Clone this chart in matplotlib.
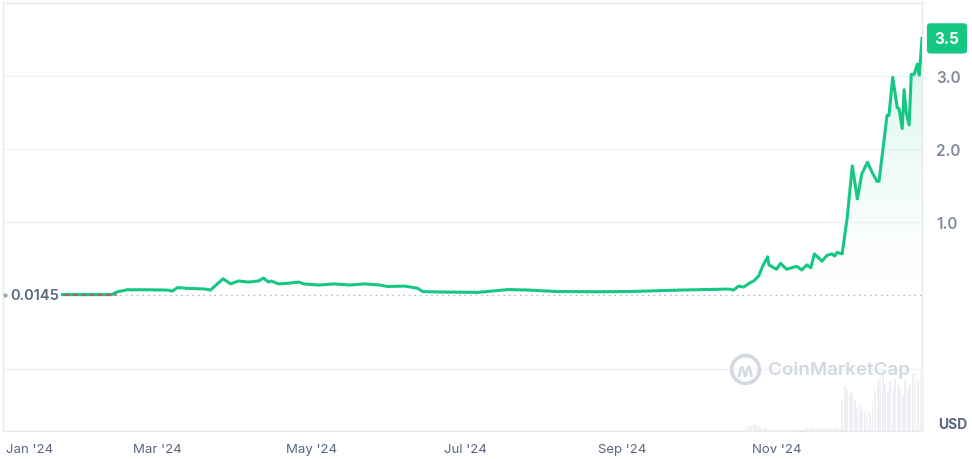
"""Price chart in CoinMarketCap style - 2024 price history."""

import numpy as np
import pandas as pd
import matplotlib
matplotlib.use("Agg")
import matplotlib.pyplot as plt
import matplotlib.dates as mdates

plt.rcParams["font.family"] = ["Inter", "DejaVu Sans"]

# 価格データ (USD)
price_dates = [
    "2024-01-21", "2024-01-28", "2024-02-04", "2024-02-12", "2024-02-14", "2024-02-18",
    "2024-02-26", "2024-03-05", "2024-03-07", "2024-03-09", "2024-03-13", "2024-03-20",
    "2024-03-22", "2024-03-27", "2024-03-30", "2024-04-02", "2024-04-06", "2024-04-10",
    "2024-04-12", "2024-04-14", "2024-04-15", "2024-04-18", "2024-04-22", "2024-04-26",
    "2024-04-28", "2024-05-04", "2024-05-10", "2024-05-16", "2024-05-22", "2024-05-28",
    "2024-05-31", "2024-06-07", "2024-06-12", "2024-06-14", "2024-06-20", "2024-07-06",
    "2024-07-18", "2024-07-26", "2024-08-06", "2024-08-23", "2024-09-04", "2024-09-24",
    "2024-10-13", "2024-10-15", "2024-10-17", "2024-10-19", "2024-10-22", "2024-10-23",
    "2024-10-25", "2024-10-26 12:00", "2024-10-28 12:00", "2024-10-29", "2024-11-01",
    "2024-11-02 14:00", "2024-11-05", "2024-11-09", "2024-11-11", "2024-11-13",
    "2024-11-14 14:00", "2024-11-16", "2024-11-19", "2024-11-21", "2024-11-23",
    "2024-11-24", "2024-11-25", "2024-11-27", "2024-11-29", "2024-12-01", "2024-12-03",
    "2024-12-04 18:00", "2024-12-07", "2024-12-08 18:00", "2024-12-10 18:00",
    "2024-12-11 14:00", "2024-12-14 18:00", "2024-12-15 12:00", "2024-12-17",
    "2024-12-18 18:00", "2024-12-19 12:00", "2024-12-20 18:00", "2024-12-21 12:00",
    "2024-12-22 08:00", "2024-12-23 12:00", "2024-12-24 08:00", "2024-12-25 12:00",
    "2024-12-26 18:00", "2024-12-27 12:00", "2024-12-28 14:00",
]
price_values = [
    0.0145, 0.0141, 0.0140, 0.0143, 0.05, 0.08,
    0.08, 0.076, 0.063, 0.11, 0.10, 0.09,
    0.076, 0.23, 0.16, 0.20, 0.185, 0.20,
    0.24, 0.185, 0.20, 0.16, 0.17, 0.185,
    0.16, 0.145, 0.16, 0.145, 0.16, 0.145,
    0.125, 0.13, 0.10, 0.055, 0.05, 0.045,
    0.083, 0.076, 0.056, 0.053, 0.056, 0.076,
    0.09, 0.076, 0.13, 0.117, 0.185, 0.20,
    0.27, 0.40, 0.53, 0.42, 0.36,
    0.44, 0.36, 0.40, 0.35, 0.42,
    0.38, 0.57, 0.47, 0.55, 0.57,
    0.54, 0.59, 0.57, 1.07, 1.77, 1.32,
    1.66, 1.82, 1.69, 1.56,
    1.56, 2.46, 2.46, 2.98,
    2.57, 2.55, 2.28, 2.81,
    2.50, 2.33, 3.02, 3.02,
    3.16, 3.01, 3.51,
]
base_price = 0.0145

# 出来高 (相対値)
volume_dates = pd.date_range("2024-10-18", "2024-12-28", freq="D")
volume_values = [
    1, 2, 4, 6, 5, 8, 6, 4, 3, 2,
    2, 1, 1, 2, 1, 1, 2, 1, 1, 1,
    1, 1, 2, 1, 1, 2, 3, 2, 3, 2,
    3, 2, 3, 2, 3, 2, 2, 3, 3, 2,
    30, 44, 40, 36, 38, 30, 22, 25, 20, 18,
    20, 18, 28, 40, 48, 52, 55, 45, 38, 48,
    40, 50, 45, 42, 35, 50, 40, 45, 55, 58,
    50, 58,
]

y_ticks = [-1, 1, 2, 3]
y_ticklabels = ["", "1.0", "2.0", "3.0"]
x_ticks = ["2024-01-01", "2024-03-01", "2024-05-01", "2024-07-01", "2024-09-01", "2024-11-01"]
x_ticklabels = ["Jan '24", "Mar '24", "May '24", "Jul '24", "Sep '24", "Nov '24"]

GREEN = "#16c784"
RED = "#ea3943"
GRID = "#eff2f5"
TEXT = "#58667e"
TICK = "#808a9d"

dates = pd.to_datetime(price_dates, format="mixed")
prices = np.array(price_values)
x = mdates.date2num(dates)

fig = plt.figure(figsize=(9.72, 4.6), dpi=100)
ax = fig.add_axes([3 / 972, 28 / 460, 919 / 972, 428.5 / 460])

x_min = mdates.date2num(pd.Timestamp("2023-12-30 22:00"))
x_max = x[-1]
y_min, y_max = -1.847, 4.0

# 出来高 (下部)
axv = ax.twinx()
axv.bar(volume_dates, volume_values, width=0.75, color="#eef0f3", linewidth=0, zorder=0)
axv.set_ylim(0, max(volume_values) * 428 / 60)
axv.axis("off")
ax.set_zorder(axv.get_zorder() + 1)
ax.patch.set_visible(False)

# グリッド
for t in y_ticks:
    ax.axhline(t, color=GRID, lw=1, zorder=1)

# 基準線
ax.axhline(base_price, color="#a6b0c3", lw=1, ls=(0, (1, 3)), zorder=2)

# グラデーション塗り
fill = ax.fill_between(x, prices, base_price, color="none", linewidth=0)
grad = np.zeros((256, 1, 4))
grad[:, 0, :3] = matplotlib.colors.to_rgb(GREEN)
grad[:, 0, 3] = np.linspace(0.26, 0.0, 256) ** 1.3
img = ax.imshow(grad, aspect="auto", extent=[x_min, x_max, base_price, 3.6],
                origin="upper", zorder=2)
img.set_clip_path(fill.get_paths()[0], transform=ax.transData)

# 価格ライン
ax.plot(x, prices, color=GREEN, lw=2.2, solid_joinstyle="round", zorder=4)
ax.plot(x[:5], np.minimum(prices[:5], base_price - 0.01), color=RED, lw=1.2,
        ls=(0, (3, 2)), alpha=0.8, zorder=5)

ax.set_xlim(x_min, x_max)
ax.set_ylim(y_min, y_max)

# 軸
for s in ax.spines.values():
    s.set_color("#e6e8ec")
    s.set_linewidth(1)
ax.yaxis.tick_right()
ax.set_yticks(y_ticks)
ax.set_yticklabels(y_ticklabels)
ax.tick_params(axis="y", length=0, pad=10, labelsize=11, labelcolor=TICK)
for lab in ax.get_yticklabels():
    lab.set_fontweight("semibold")

ax.set_xticks(mdates.date2num(pd.to_datetime(x_ticks)))
ax.set_xticklabels(x_ticklabels)
ax.tick_params(axis="x", length=0, pad=9, labelsize=9.5, labelcolor=TEXT)
ax.get_xticklabels()[0].set_horizontalalignment("left")

# 最新価格ラベル
ax.annotate(f"{prices[-1]:.1f}", xy=(1.0, prices[-1]), xycoords=("axes fraction", "data"),
            xytext=(18, 0), textcoords="offset points", ha="center", va="center",
            fontsize=11, fontweight="bold", color="white",
            bbox=dict(boxstyle="round,pad=0.5,rounding_size=0.2", fc=GREEN, ec="none"))

# 基準価格ラベル
ax.text(0.008, base_price, f"{base_price}", transform=ax.get_yaxis_transform(),
        ha="left", va="center", fontsize=10.5, fontweight="semibold", color=TEXT,
        bbox=dict(boxstyle="square,pad=0.15", fc="white", ec="none"), zorder=6)
ax.plot([0.002], [base_price], marker="o", ms=2, color="#9aa4b4",
        transform=ax.get_yaxis_transform(), clip_on=False, zorder=6)

ax.text(1.018, -1.75, "USD", transform=ax.get_yaxis_transform(), ha="left", va="center",
        fontsize=10, fontweight="bold", color=TEXT)

# ウォーターマーク
wm_color = "#d3d8e1"
ax.text(0.832, 0.145, "CoinMarketCap", transform=ax.transAxes, ha="left", va="center",
        fontsize=13.5, color=wm_color, fontweight="semibold", zorder=3)
ax.plot([0.807], [0.145], marker="o", ms=20, mfc="none", mec=wm_color, mew=2.6,
        transform=ax.transAxes, zorder=3)
ax.text(0.807, 0.140, "ʍ", transform=ax.transAxes, ha="center", va="center",
        fontsize=14, color=wm_color, fontweight="bold", zorder=3)

plt.savefig("out.png", dpi=100)
